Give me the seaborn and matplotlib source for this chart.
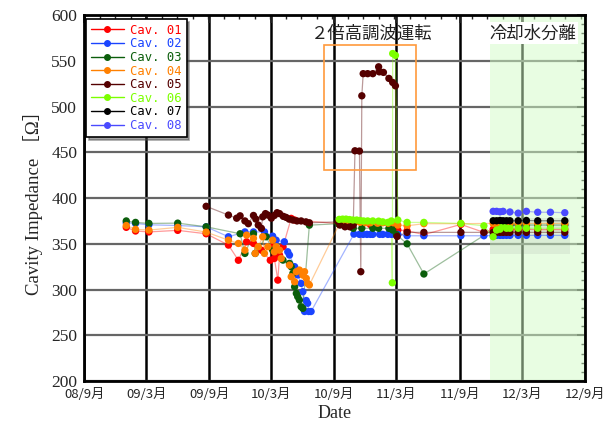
import matplotlib
matplotlib.use('Agg')
import pandas as pd
import seaborn as sns
import matplotlib.pyplot as plt
import matplotlib.dates as mdates
from matplotlib.patches import Rectangle
from matplotlib.lines import Line2D
from matplotlib.ticker import MultipleLocator, AutoMinorLocator, FuncFormatter

# ---- data ----
e_dates = ['2011-12-08', '2011-12-18', '2011-12-28', '2012-01-06', '2012-01-16', '2012-01-26',
           '2012-02-19', '2012-03-14', '2012-04-16', '2012-05-23', '2012-07-04']

d01 = ['2009-01-02', '2009-01-29', '2009-03-09', '2009-06-01', '2009-08-23',
       '2009-10-27', '2009-11-25', '2009-12-19', '2010-01-08', '2010-01-31', '2010-02-26',
       '2010-03-05', '2010-03-10', '2010-03-20', '2010-03-25', '2010-04-04', '2010-04-28',
       '2010-05-08', '2010-09-15', '2010-12-15', '2011-02-26', '2011-03-05', '2011-04-01',
       '2011-05-20', '2011-09-05', '2011-11-11'] + e_dates
v01 = [368, 364, 363, 364.7, 361,
       348.6, 332, 352.2, 350.4, 343, 332, 346.8, 334, 310.3, 337.7, 346.8, 377.8, 376,
       372, 371, 369.7, 365, 364.3, 360, 371.2, 362.5,
       365.8, 365.5, 365.5, 365.8, 365.5, 365.5, 365.5, 365.8, 365.5, 365.5, 365.5]

d02 = ['2009-01-02', '2009-01-29', '2009-03-09', '2009-06-01', '2009-08-23',
       '2009-10-27', '2009-12-14', '2010-01-08', '2010-02-09', '2010-03-05', '2010-03-15',
       '2010-04-08', '2010-04-18', '2010-04-23', '2010-05-08', '2010-05-17', '2010-05-27',
       '2010-06-01', '2010-06-06', '2010-06-11', '2010-06-15', '2010-06-18', '2010-06-25',
       '2010-10-28', '2010-11-13', '2010-11-24', '2010-12-05', '2010-12-15', '2010-12-22',
       '2011-01-11', '2011-01-20', '2011-02-04', '2011-02-14', '2011-02-24', '2011-03-05',
       '2011-04-01', '2011-05-20', '2011-09-05', '2011-11-11'] + e_dates
v02 = [373, 372.3, 370.8, 370, 368.6,
       357.7, 363, 363, 363, 358.4, 354, 352.2, 341.3, 337.7, 325, 316, 306.7,
       297.6, 276, 288, 285, 276, 276,
       360.6, 360.3, 360.3, 360.3, 360.3, 360.3, 360.3, 360.3, 360.3, 360.3, 360.3, 360.3,
       358.8, 358.8, 358.8, 358.8,
       359.2, 359.2, 359.2, 359.2, 359.2, 359.2, 359.2, 359.2, 359.2, 359.2, 359.2]

d03 = ['2009-01-02', '2009-01-29', '2009-03-09', '2009-06-01', '2009-08-23',
       '2009-11-30', '2009-12-14', '2010-01-08', '2010-01-13', '2010-02-14', '2010-03-05',
       '2010-04-04', '2010-04-23', '2010-04-28', '2010-05-03', '2010-05-08', '2010-05-13',
       '2010-05-17', '2010-05-22', '2010-05-27', '2010-06-01', '2010-06-20',
       '2010-09-12', '2010-10-26', '2010-11-20', '2010-12-22', '2011-01-08', '2011-02-07',
       '2011-02-12', '2011-02-18', '2011-03-01', '2011-04-01', '2011-05-20'] + e_dates[2:]
v03 = [375, 373.4, 372.3, 372.6, 368.6,
       361, 339.5, 361, 339.5, 357.7, 343, 332.2, 328.6, 325, 317.7, 303, 295.8,
       292.2, 288.5, 281.2, 279.4, 370.4,
       372, 366.9, 367, 367, 367, 366.9, 369, 365, 360, 350, 317,
       370.5, 370.5, 370.5, 370.5, 370.5, 370.5, 370.5, 370.5, 370.5]

d04 = ['2009-01-02', '2009-01-29', '2009-03-09', '2009-06-01', '2009-08-23',
       '2009-10-27', '2009-11-25', '2009-12-14', '2009-12-19', '2010-01-08', '2010-01-13',
       '2010-01-22', '2010-02-04', '2010-02-09', '2010-02-19', '2010-03-05', '2010-03-10',
       '2010-03-15', '2010-03-25', '2010-03-30', '2010-04-23', '2010-04-28', '2010-05-08',
       '2010-05-13', '2010-05-22', '2010-06-01', '2010-06-06', '2010-06-11', '2010-06-15',
       '2010-06-20',
       '2010-09-17', '2010-10-02', '2010-10-16', '2010-11-01', '2010-11-15', '2010-12-01',
       '2010-12-15', '2011-01-05', '2011-01-20', '2011-02-05', '2011-02-20', '2011-03-05',
       '2011-04-01', '2011-05-20', '2011-09-05'] + e_dates
v04 = [370, 365.8, 365, 368, 362.8,
       354, 350.4, 343, 359.5, 356, 339.5, 346.8, 357.7, 339.5, 346.8, 354, 341.3,
       346.8, 343, 334, 326.7, 314, 308.5, 319.5, 321.3, 315.8, 319.5, 312.2, 306.7, 305,
       373, 373.5, 373, 374, 373.5, 373, 373, 372.5, 373, 372.5, 373, 370.5,
       369.7, 372, 372,
       372.3, 372.3, 372.3, 372.3, 372.3, 372.3, 372.3, 372.3, 372.3, 372.3, 372.3]

d05 = ['2009-08-23', '2009-10-27', '2009-11-20', '2009-11-30', '2009-12-14', '2009-12-24',
       '2010-01-08', '2010-01-15', '2010-01-22', '2010-01-31', '2010-02-04', '2010-02-12',
       '2010-02-19', '2010-03-01', '2010-03-10', '2010-03-18', '2010-03-25', '2010-04-05',
       '2010-04-13', '2010-04-22', '2010-05-03', '2010-05-15', '2010-05-27', '2010-06-10',
       '2010-06-20',
       '2010-09-12', '2010-09-17', '2010-10-02', '2010-10-16', '2010-10-26', '2010-10-31',
       '2010-11-13', '2010-11-17', '2010-11-20', '2010-11-24', '2010-12-07', '2010-12-22',
       '2011-01-08', '2011-01-10', '2011-01-22', '2011-02-07', '2011-02-18', '2011-02-26',
       '2011-03-03', '2011-04-01', '2011-05-20', '2011-09-05', '2011-11-11'] + e_dates
v05 = [391, 381.4, 378, 380.6, 375, 372, 381, 377, 370.5, 366.9, 379.5, 383,
       381.4, 378, 381, 384, 383, 380, 378.9, 377, 376, 375, 375, 374, 373,
       374, 370.5, 368.6, 368.6, 370.5, 451.7, 451.4, 319.5, 511.8, 536, 536, 536,
       543.5, 538, 537.4, 530.8, 526.4, 522.7, 358, 362.5, 362.5, 362.5, 362.5,
       362.5, 362.5, 362.5, 362.5, 362.5, 362.5, 362.5, 362.5, 362.5, 362.5, 362.5]

d06 = ['2010-09-15', '2010-09-25', '2010-10-05', '2010-10-15', '2010-10-25', '2010-11-05',
       '2010-11-15', '2010-11-25', '2010-12-07', '2010-12-22', '2011-01-08', '2011-01-20',
       '2011-02-04', '2011-02-14', '2011-02-17', '2011-02-18', '2011-02-26', '2011-03-05',
       '2011-04-01', '2011-05-20', '2011-09-05', '2011-11-11'] + e_dates
v06 = [376.7, 377, 377, 376.5, 376, 376, 375.5, 375, 375, 375, 374.8, 374,
       373.4, 375, 307.4, 558, 556, 376, 373.4, 373.4, 372.3, 369.7,
       357.7, 365, 366, 370.5, 367, 367, 367, 367, 367, 367, 367]

d07 = e_dates
v07 = [375.2, 375.2, 375.5, 375.2, 375.2, 375.2, 375.2, 375.5, 375.2, 375.2, 375.2]

d08 = ['2011-12-08', '2011-12-18', '2011-12-28', '2012-01-06', '2012-01-26', '2012-02-19',
       '2012-03-14', '2012-04-16', '2012-05-23', '2012-07-04']
v08 = [385.5, 385.5, 385, 385.5, 384.8, 383.5, 385.5, 384.5, 384.5, 384]

names = ['Cav. 01', 'Cav. 02', 'Cav. 03', 'Cav. 04', 'Cav. 05', 'Cav. 06', 'Cav. 07', 'Cav. 08']
colors = ['#ff0000', '#1a44ff', '#0b5e0b', '#ff8000', '#550000', '#7cff00', '#000000', '#4a4aff']
all_dates = [d01, d02, d03, d04, d05, d06, d07, d08]
all_vals = [v01, v02, v03, v04, v05, v06, v07, v08]

frames = []
for name, d, v in zip(names, all_dates, all_vals):
    frames.append(pd.DataFrame({'date': pd.to_datetime(d), 'imp': v, 'cav': name}))
df = pd.concat(frames, ignore_index=True)
pal = dict(zip(names, colors))

# ---- figure ----
sns.set_style('white')
plt.rcParams['font.family'] = ['Liberation Serif', 'Noto Sans CJK JP']
cjk = ['Noto Sans CJK JP', 'DejaVu Sans']

fig = plt.figure(figsize=(6.05, 4.32), dpi=100)
ax = fig.add_axes([0.139, 0.118, 0.828, 0.847])

# background regions
ax.axvspan(pd.Timestamp('2011-11-29'), pd.Timestamp('2012-09-01'),
           color='#d2fcc6', alpha=0.5, lw=0, zorder=1)
x0 = mdates.date2num(pd.Timestamp('2011-11-29'))
x1 = mdates.date2num(pd.Timestamp('2012-07-18'))
ax.add_patch(Rectangle((x0, 339), x1 - x0, 39, facecolor='0.5', alpha=0.12, lw=0, zorder=1.2))

# lines then markers
sns.lineplot(data=df, x='date', y='imp', hue='cav', palette=pal, estimator=None,
             alpha=0.4, lw=0.9, legend=False, ax=ax, zorder=2)
sns.scatterplot(data=df, x='date', y='imp', hue='cav', palette=pal, s=28,
                linewidth=0, legend=False, ax=ax, zorder=3)

# 2nd harmonic box
b0 = mdates.date2num(pd.Timestamp('2010-08-02'))
b1 = mdates.date2num(pd.Timestamp('2011-04-28'))
ax.add_patch(Rectangle((b0, 430.6), b1 - b0, 136.4, fill=False,
                       edgecolor='#ff9a3c', lw=1.2, zorder=4))
ax.text(pd.Timestamp('2010-12-18'), 580, '２倍高調波運転', ha='center', va='center',
        fontsize=12.5, family=cjk, color='#222222', zorder=5)
ax.text(pd.Timestamp('2012-04-01'), 580, '冷却水分離', ha='center', va='center',
        fontsize=12.5, family=cjk, color='#222222', zorder=5,
        bbox=dict(facecolor='white', edgecolor='none', pad=1.5))

# axes
ax.set_xlim(pd.Timestamp('2008-09-01'), pd.Timestamp('2012-09-01'))
ax.set_ylim(200, 600)
ax.xaxis.set_major_locator(mdates.MonthLocator(bymonth=[3, 9]))
ax.xaxis.set_major_formatter(FuncFormatter(
    lambda x, pos: mdates.num2date(x).strftime('%y/') + str(mdates.num2date(x).month) + '月'))
ax.xaxis.set_minor_locator(AutoMinorLocator(4))
ax.yaxis.set_major_locator(MultipleLocator(50))
ax.yaxis.set_minor_locator(MultipleLocator(10))

ax.set_axisbelow(True)
ax.grid(axis='x', which='major', color='black', lw=1.8)
ax.grid(axis='y', which='major', color='0.4', lw=1.6)

ax.tick_params(which='both', direction='in', top=True, right=True)
ax.tick_params(which='major', length=6, width=1.2)
ax.tick_params(which='minor', length=3, width=1)
ax.tick_params(axis='y', labelsize=12.5, pad=5)
ax.tick_params(axis='x', labelsize=9.5, pad=5)
for lab in ax.get_xticklabels():
    lab.set_family(cjk)
for sp in ax.spines.values():
    sp.set_linewidth(2)
    sp.set_color('black')

ax.set_xlabel('Date', fontsize=13, labelpad=3)
ax.set_ylabel('Cavity Impedance ［Ω］', fontsize=13.5, labelpad=6)

# legend
handles = [Line2D([], [], color=c, lw=1, marker='o', markersize=4) for c in colors]
leg = ax.legend(handles, names, loc='upper left', bbox_to_anchor=(0.004, 0.99),
                borderaxespad=0, prop={'family': 'DejaVu Sans Mono', 'size': 8.8},
                handlelength=2.7, labelspacing=0.05, handletextpad=0.5, borderpad=0.4,
                fancybox=False, shadow=True, framealpha=1)
leg.get_frame().set_edgecolor('black')
leg.get_frame().set_linewidth(1.2)
for t, c in zip(leg.get_texts(), colors):
    t.set_color(c)
leg.set_zorder(6)

fig.savefig('out.png', dpi=100)
